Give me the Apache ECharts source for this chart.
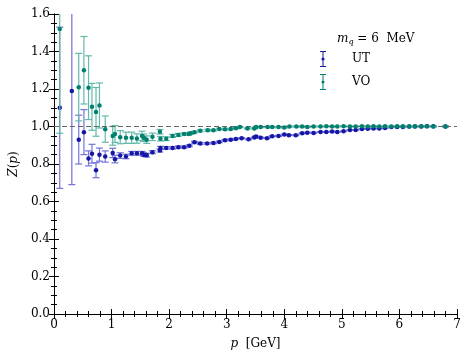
<!DOCTYPE html>
<html>
<head>
<meta charset="utf-8">
<script src="https://cdn.jsdelivr.net/npm/echarts@6/dist/echarts.min.js"></script>
<style>
  html, body { margin: 0; padding: 0; background: #fff; }
  #zp { width: 469px; height: 361px; }
</style>
</head>
<body>
<div id="zp"></div>
<script>
// momentum [GeV], Z(p) and error for the two gauges
var utP = [0.10, 0.31, 0.43, 0.52, 0.60, 0.66, 0.73, 0.79, 0.89, 1.02, 1.06, 1.15, 1.25, 1.35, 1.44, 1.53, 1.56, 1.61, 1.71, 1.84, 1.85,
  1.95, 2.06, 2.16, 2.26, 2.35, 2.44, 2.54, 2.66, 2.77, 2.87, 2.97, 3.07, 3.16, 3.26, 3.38, 3.48, 3.51, 3.59, 3.70, 3.79, 3.90,
  4.00, 4.08, 4.20, 4.31, 4.40, 4.51, 4.63, 4.73, 4.83, 4.92, 5.03, 5.14, 5.24, 5.35, 5.45, 5.55, 5.65, 5.75, 5.86, 5.96, 6.06,
  6.17, 6.27, 6.38, 6.48, 6.59, 6.80];
var utZ = [1.10, 1.19, 0.93, 0.97, 0.83, 0.855, 0.767, 0.85, 0.84, 0.859, 0.826, 0.845, 0.84, 0.857, 0.857, 0.857, 0.85, 0.847, 0.863, 0.872, 0.886,
  0.886, 0.886, 0.89, 0.89, 0.897, 0.916, 0.91, 0.91, 0.912, 0.918, 0.927, 0.93, 0.934, 0.938, 0.932, 0.941, 0.947, 0.94, 0.938, 0.948, 0.95,
  0.957, 0.954, 0.954, 0.964, 0.967, 0.966, 0.971, 0.971, 0.973, 0.971, 0.975, 0.981, 0.981, 0.987, 0.988, 0.99, 0.99, 0.992, 0.997, 0.997, 0.998,
  1.0, 1.0, 1.0, 1.001, 1.001, 1.0];
var utErr = [0.43, 0.50, 0.13, 0.12, 0.04, 0.05, 0.04, 0.035, 0.03, 0.025, 0.02, 0.015, 0.012, 0.01, 0.01, 0.01, 0.01, 0.01, 0.008, 0.008, 0.008,
  0.006, 0.006, 0.006, 0.005, 0.005, 0.005, 0.005, 0.004, 0.004, 0.004, 0.004, 0.004, 0.003, 0.003, 0.003, 0.003, 0.003, 0.003, 0.003, 0.003, 0.003,
  0.003, 0.003, 0.003, 0.003, 0.003, 0.003, 0.002, 0.002, 0.002, 0.002, 0.002, 0.002, 0.002, 0.002, 0.002, 0.002, 0.002, 0.002, 0.002, 0.002, 0.002,
  0.002, 0.002, 0.002, 0.002, 0.002, 0.002];

var voP = [0.10, 0.43, 0.52, 0.60, 0.66, 0.73, 0.79, 0.89, 1.02, 1.06, 1.15, 1.25, 1.35, 1.44, 1.53, 1.56, 1.61, 1.71, 1.84, 1.85,
  1.95, 2.06, 2.16, 2.26, 2.34, 2.37, 2.44, 2.54, 2.67, 2.77, 2.87, 2.97, 3.07, 3.16, 3.23, 3.36, 3.48, 3.51, 3.59, 3.71, 3.79, 3.90,
  4.00, 4.09, 4.21, 4.31, 4.40, 4.51, 4.63, 4.73, 4.83, 4.92, 5.03, 5.14, 5.24, 5.35, 5.45, 5.55, 5.65, 5.75, 5.86, 5.96, 6.06,
  6.17, 6.27, 6.38, 6.48, 6.59, 6.80];
var voZ = [1.52, 1.21, 1.30, 1.207, 1.105, 1.078, 1.112, 0.986, 0.95, 0.96, 0.943, 0.94, 0.94, 0.936, 0.95, 0.94, 0.93, 0.945, 0.972, 0.935,
  0.935, 0.95, 0.955, 0.96, 0.96, 0.964, 0.97, 0.977, 0.98, 0.98, 0.987, 0.985, 0.987, 0.991, 0.997, 0.99, 0.99, 0.997, 0.997, 0.997, 0.997, 0.997,
  0.995, 1.0, 1.0, 1.0, 0.998, 1.0, 1.0, 1.001, 1.0, 1.0, 1.001, 1.0, 1.0, 1.001, 1.0, 1.001, 1.0, 1.001, 1.0, 1.001, 1.001,
  1.0, 1.001, 1.001, 1.001, 1.0, 1.0];
var voErr = [0.556, 0.18, 0.18, 0.17, 0.125, 0.13, 0.12, 0.07, 0.05, 0.045, 0.035, 0.03, 0.03, 0.025, 0.025, 0.02, 0.02, 0.02, 0.012, 0.012,
  0.01, 0.008, 0.008, 0.006, 0.006, 0.006, 0.005, 0.005, 0.005, 0.004, 0.004, 0.004, 0.004, 0.003, 0.003, 0.003, 0.003, 0.003, 0.003, 0.003, 0.003, 0.003,
  0.003, 0.003, 0.003, 0.003, 0.003, 0.003, 0.002, 0.002, 0.002, 0.002, 0.002, 0.002, 0.002, 0.002, 0.002, 0.002, 0.002, 0.002, 0.002, 0.002, 0.002,
  0.002, 0.002, 0.002, 0.002, 0.002, 0.002];

var seriesNames = ['UT', 'VO'];
var yTicks = [0.0, 0.2, 0.4, 0.6, 0.8, 1.0, 1.2, 1.4, 1.6];
var xTicks = [0, 1, 2, 3, 4, 5, 6, 7];

var utDot = '#1616a6', utBar = '#7373d8';
var voDot = '#00806e', voBar = '#63b9aa';
var font = '"DejaVu Serif", "Liberation Serif", serif';

function points(ps, zs) {
  return ps.map(function (p, i) { return [p, zs[i]]; });
}
function bars(ps, zs, es) {
  return ps.map(function (p, i) { return [p, zs[i] - es[i], zs[i] + es[i]]; });
}

// vertical error bar with caps, cut at the frame
function errorBar(color) {
  return function (params, api) {
    var x = api.value(0), lo = api.value(1), hi = api.value(2);
    var yMax = yTicks[yTicks.length - 1];
    var a = api.coord([x, Math.min(hi, yMax)]);
    var b = api.coord([x, Math.max(lo, 0)]);
    var w = 3.5;
    var style = { stroke: color, lineWidth: 1.2 };
    var kids = [{ type: 'line', shape: { x1: a[0], y1: a[1], x2: b[0], y2: b[1] }, style: style }];
    if (hi <= yMax) kids.push({ type: 'line', shape: { x1: a[0] - w, y1: a[1], x2: a[0] + w, y2: a[1] }, style: style });
    if (lo >= 0) kids.push({ type: 'line', shape: { x1: b[0] - w, y1: b[1], x2: b[0] + w, y2: b[1] }, style: style });
    return { type: 'group', children: kids };
  };
}

var ebIcon = 'path://M0,0H6V1H3.5V15H6V16H0V15H2.5V1H0Z M4.6,8A1.6,1.6 0 1 1 1.4,8A1.6,1.6 0 1 1 4.6,8Z';

var chart = echarts.init(document.getElementById('zp'));

var tickStyle = { inside: true, length: 5, lineStyle: { color: '#000', width: 1 } };
var minorStyle = { show: true, length: 3, lineStyle: { color: '#000', width: 1 } };
var txt = { fontFamily: font, fontSize: 12, color: '#000', fontWeight: 'normal' };
var itx = Object.assign({}, txt, { fontStyle: 'italic' });

var option = {
  animation: false,
  backgroundColor: '#fff',
  textStyle: { fontFamily: font },
  grid: { left: 52, right: 12, top: 14, bottom: 47 },
  title: {
    text: '{i|m}{s|q}{n| = 6  MeV}',
    left: 332, top: 26,
    textStyle: {
      fontWeight: 'normal',
      rich: {
        i: itx,
        s: Object.assign({}, itx, { fontSize: 8, padding: [7, 0, 0, 0] }),
        n: txt
      }
    }
  },
  legend: {
    data: seriesNames,
    orient: 'vertical',
    left: 315, top: 46,
    itemWidth: 6, itemHeight: 16,
    itemGap: 7,
    icon: ebIcon,
    textStyle: { fontFamily: font, fontSize: 12, color: '#000', padding: [0, 0, 0, 21] }
  },
  xAxis: [{
    type: 'value', min: 0, max: 7, interval: 1,
    name: '{i|p}{n|  [GeV]}', nameLocation: 'middle', nameGap: 24,
    nameTextStyle: { rich: { i: itx, n: txt } },
    axisLine: { lineStyle: { color: '#000', width: 1 } },
    axisTick: tickStyle, minorTick: Object.assign({ splitNumber: 5 }, minorStyle),
    axisLabel: { color: '#000', fontSize: 12, fontFamily: font, margin: 5,
      formatter: function (v) { return xTicks.indexOf(v) >= 0 ? String(v) : ''; } },
    splitLine: { show: false }
  }, {
    type: 'value', min: 0, max: 7, interval: 1, position: 'top',
    axisLine: { lineStyle: { color: '#000', width: 1 } },
    axisTick: tickStyle, minorTick: Object.assign({ splitNumber: 5 }, minorStyle),
    axisLabel: { show: false }, splitLine: { show: false }
  }],
  yAxis: [{
    type: 'value', min: 0, max: 1.6, interval: 0.2,
    name: '{i|Z}{n|(}{i|p}{n|)}', nameLocation: 'middle', nameGap: 30, nameRotate: 90,
    nameTextStyle: { rich: { i: itx, n: txt } },
    axisLine: { lineStyle: { color: '#000', width: 1 } },
    axisTick: tickStyle, minorTick: Object.assign({ splitNumber: 4 }, minorStyle),
    axisLabel: { color: '#000', fontSize: 12, fontFamily: font, margin: 4,
      formatter: function (v) { return v.toFixed(1); } },
    splitLine: { show: false }
  }, {
    type: 'value', min: 0, max: 1.6, interval: 0.2, position: 'right',
    axisLine: { lineStyle: { color: '#000', width: 1 } },
    axisTick: tickStyle, minorTick: Object.assign({ splitNumber: 4 }, minorStyle),
    axisLabel: { show: false }, splitLine: { show: false }
  }],
  series: [
    {
      name: 'UT-err', type: 'custom', clip: true,
      renderItem: errorBar(utBar), data: bars(utP, utZ, utErr), z: 2, silent: true,
      markLine: {
        silent: true, symbol: ['none', 'none'], label: { show: false },
        lineStyle: { color: '#666', type: [5, 3], width: 1 },
        data: [{ yAxis: 1.0 }]
      }
    },
    {
      name: 'UT', type: 'scatter', symbol: 'circle', symbolSize: 4.5,
      itemStyle: { color: utDot, opacity: 1 }, data: points(utP, utZ), z: 3
    },
    {
      name: 'VO-err', type: 'custom', clip: true,
      renderItem: errorBar(voBar), data: bars(voP, voZ, voErr), z: 4, silent: true
    },
    {
      name: 'VO', type: 'scatter', symbol: 'circle', symbolSize: 4.5,
      itemStyle: { color: voDot, opacity: 1 }, data: points(voP, voZ), z: 5
    }
  ]
};

chart.setOption(option);
</script>
</body>
</html>
